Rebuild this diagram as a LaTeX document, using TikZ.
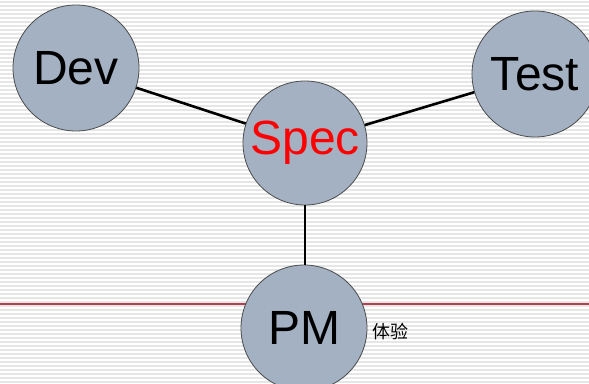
\documentclass[tikz,border=0pt]{standalone}
\usepackage{fontspec}
\setmainfont{Liberation Sans}
\newfontfamily\cjk{Noto Sans CJK SC}
\definecolor{circfill}{HTML}{A3B1C2}
\definecolor{stripe}{HTML}{E6E6E6}
\definecolor{redline}{HTML}{B04050}
\begin{document}
\begin{tikzpicture}[x=1pt,y=1pt,
  role/.style={circle,draw=black!70,line width=0.8pt,fill=circfill,minimum size=126pt,inner sep=0pt,font=\fontsize{48}{48}\selectfont},
  link/.style={line width=2.6pt,black}]
\useasboundingbox (0,0) rectangle (589,383);
\fill[white] (0,0) rectangle (589,383);
\foreach \y in {1,5,...,383} {\draw[stripe,line width=1.4pt] (0,\y) -- (589,\y);}
\coordinate (rl) at (0,79);
\coordinate (rr) at (589,79);
\draw[redline,line width=1.3pt] (rl) -- (rr);
\node[font=\cjk\fontsize{18}{18}\selectfont,anchor=west] (ux) at (369,51) {体验};
\node[role] (dev) at (76,315) {Dev};
\node[role] (test) at (535,309) {Test};
\node[role,minimum size=124pt,text=red] (spec) at (305,240) {Spec};
\node[role] (pm) at (304,55) {PM};
\draw[link] (dev) -- (spec);
\draw[link] (spec) -- (test);
\draw[link] (spec.south) -- (spec.south |- pm.north);
\end{tikzpicture}
\end{document}
